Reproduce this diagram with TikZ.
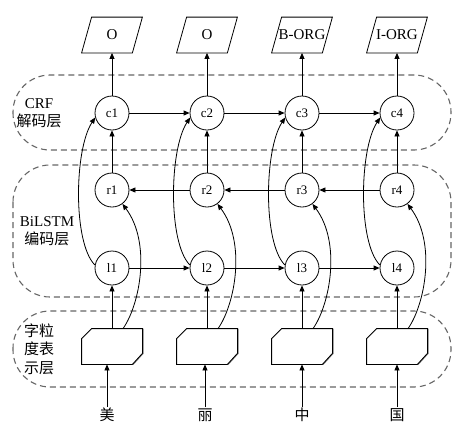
\documentclass[tikz,border=0pt]{standalone}
\usepackage{fontspec}
\setmainfont{Liberation Serif}
\newfontfamily\cjk{Noto Sans CJK SC}
\usetikzlibrary{arrows.meta}
\begin{document}
\begin{tikzpicture}[x=1pt,y=-1pt,
  line width=0.8pt,
  arr/.style={-{Triangle[length=6pt,width=5pt]}},
  neuron/.style={circle,draw,minimum size=34pt,inner sep=0pt,font=\fontsize{13}{15}\selectfont},
  outbox/.style={rectangle,minimum width=60pt,minimum height=35pt,inner sep=0pt,font=\fontsize{15}{17}\selectfont},
  embbox/.style={rectangle,minimum width=60pt,minimum height=35pt,inner sep=0pt},
  layer/.style={draw=black!60,dash pattern=on 6pt off 4pt,line width=1.1pt,rounded corners=37pt},
  lab/.style={align=center,font=\fontsize{15}{18.5}\selectfont},
  chr/.style={font=\cjk\fontsize{15}{17}\selectfont,inner sep=1pt}
]
\useasboundingbox (0,0) rectangle (469,432);

% layer boxes
\draw[layer] (13,75) rectangle (451,150);
\draw[layer] (13,165) rectangle (451,297);
\draw[layer] (13,311) rectangle (451,387);

% layer labels
\node[lab] (labcrf) at (39,113) {CRF\\{\cjk 解码层}};
\node[lab] (labbi) at (47,231) {BiLSTM\\{\cjk 编码层}};
\node[lab,font=\cjk\fontsize{15}{18.5}\selectfont] (labemb) at (39,349) {字粒\\度表\\示层};

% columns
\foreach \i/\x/\cx/\t/\lab in {1/112/107/美/O,2/207/205/丽/O,3/302/302/中/B-ORG,4/397/397/国/I-ORG}{
  \node[outbox] (o\i) at (\x,35) {\lab};
  \draw ([xshift=10pt]o\i.north west) -- (o\i.north east) -- ([xshift=-10pt]o\i.south east) -- (o\i.south west) -- cycle;
  \node[neuron] (c\i) at (\x,113) {c\i};
  \node[neuron] (r\i) at (\x,190) {r\i};
  \node[neuron] (l\i) at (\x,268) {l\i};
  \node[embbox] (e\i) at (\x,346.5) {};
  \node[chr] (ch\i) at (\cx,415) {\t};
  % embedding shape
  \draw[black!55,line width=1.2pt] ([xshift=0.6pt]e\i.north east) -- ([xshift=0.6pt,yshift=11pt]e\i.south east) -- ([xshift=-9.4pt,yshift=0pt]e\i.south east);
  \draw ([yshift=-10pt]e\i.north west) -- ([xshift=10pt]e\i.north west) -- (e\i.north east)
        -- ([yshift=11pt]e\i.south east) -- ([xshift=-10pt]e\i.south east) -- (e\i.south west) -- cycle;
  % arrows
  \draw[arr] (ch\i.north) -- (ch\i.north |- e\i.south);
  \draw[arr] (l\i |- e\i.north) -- (l\i.south);
  \draw[arr] ([xshift=11pt]e\i.north) .. controls +(17,-24) and +(29,39) .. (r\i.-53);
  \draw[arr] (l\i.170) .. controls +(-22,-22) and +(-21,32) .. (c\i.195);
  \draw[arr] (r\i.north) -- (c\i.south);
  \draw[arr] (c\i.north) -- (c\i.north |- o\i.south);
}

\draw[arr] (c1.east) -- (c2.west);
\draw[arr] (c2.east) -- (c3.west);
\draw[arr] (c3.east) -- (c4.west);
\draw[arr] (l1.east) -- (l2.west);
\draw[arr] (l2.east) -- (l3.west);
\draw[arr] (l3.east) -- (l4.west);
\draw[arr] (r4.west) -- (r3.east);
\draw[arr] (r3.west) -- (r2.east);
\draw[arr] (r2.west) -- (r1.east);
\end{tikzpicture}
\end{document}
